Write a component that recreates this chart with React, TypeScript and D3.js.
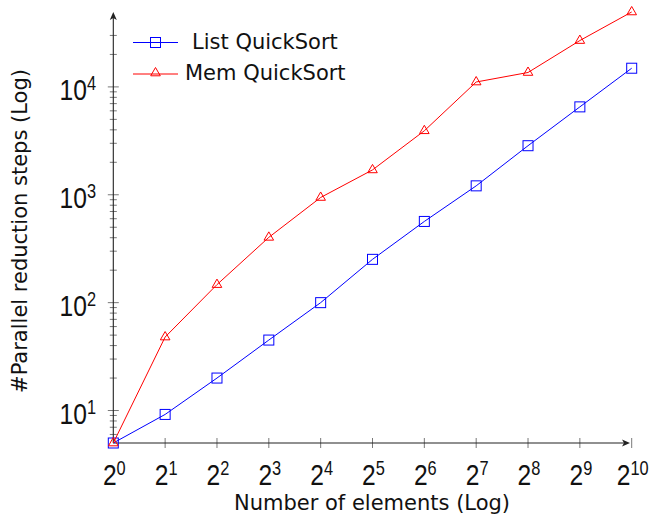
import React, { useEffect, useRef } from "react";
import * as d3 from "d3";

// Data
const exponents = [0, 1, 2, 3, 4, 5, 6, 7, 8, 9, 10];
const listQuickSort = [5, 9.2, 20, 45, 100, 252, 566, 1210, 2850, 6530, 14900];
const memQuickSort = [5, 48, 147, 403, 944, 1700, 3920, 11100, 13600, 26900, 49500];
const yTickExponents = [1, 2, 3, 4];
const seriesNames = ["List QuickSort", "Mem QuickSort"];

const App = () => {
  const svgRef = useRef<SVGSVGElement | null>(null);
  const width = 653;
  const height = 518;

  useEffect(() => {
    const svg = d3.select(svgRef.current);
    svg.selectAll("*").remove();

    const tickFont = "'Liberation Sans', Arial, sans-serif";
    const labelFont = "'DejaVu Sans', sans-serif";

    const xScale = d3.scaleLog().base(2).domain([1, 1024]).range([113.3, 631.7]);
    const yScale = d3.scaleLog().domain([5, 50000]).range([443, 11.5]);

    const x0 = xScale(1);
    const y0 = yScale(5);
    const yTop = 12;
    const xEnd = 630;

    // Minor y ticks
    const minor: number[] = [];
    for (let k = 0; k <= 4; k++) {
      for (let m = 2; m <= 9; m++) {
        const v = m * Math.pow(10, k);
        if (v > 5 && yScale(v) > yTop + 12) minor.push(v);
      }
    }
    const ax = svg.append("g");
    ax.selectAll("line.minor")
      .data(minor)
      .join("line")
      .attr("x1", x0 - 3.5)
      .attr("x2", x0 + 3.5)
      .attr("y1", (d) => yScale(d))
      .attr("y2", (d) => yScale(d))
      .attr("stroke", "#555")
      .attr("stroke-width", 0.8);

    ax.selectAll("line.major")
      .data(yTickExponents)
      .join("line")
      .attr("x1", x0 - 5.5)
      .attr("x2", x0 + 5.5)
      .attr("y1", (d) => yScale(Math.pow(10, d)))
      .attr("y2", (d) => yScale(Math.pow(10, d)))
      .attr("stroke", "#555")
      .attr("stroke-width", 0.8);

    // x ticks
    ax.selectAll("line.xt")
      .data(exponents.slice(1))
      .join("line")
      .attr("x1", (d) => xScale(Math.pow(2, d)))
      .attr("x2", (d) => xScale(Math.pow(2, d)))
      .attr("y1", y0 - 5)
      .attr("y2", y0 + 5)
      .attr("stroke", "#555")
      .attr("stroke-width", 0.8);

    // axis lines with arrows
    ax.append("line")
      .attr("x1", x0).attr("x2", xEnd - 4)
      .attr("y1", y0).attr("y2", y0)
      .attr("stroke", "#222").attr("stroke-width", 1.1);
    ax.append("path")
      .attr("d", `M${xEnd},${y0} L${xEnd - 8},${y0 - 3.5} L${xEnd - 6},${y0} L${xEnd - 8},${y0 + 3.5} Z`)
      .attr("fill", "#222");
    ax.append("line")
      .attr("x1", x0).attr("x2", x0)
      .attr("y1", y0).attr("y2", yTop + 4)
      .attr("stroke", "#222").attr("stroke-width", 1.1);
    ax.append("path")
      .attr("d", `M${x0},${yTop} L${x0 - 3.5},${yTop + 8} L${x0},${yTop + 6} L${x0 + 3.5},${yTop + 8} Z`)
      .attr("fill", "#222");

    // tick labels (narrowed to match the condensed TeX digits)
    const yl = svg.append("g");
    const powerLabel = (x: number, y: number, base: string, exp: number, anchor: string) => {
      const t = yl.append("text")
        .attr("transform", `translate(${x},${y}) scale(0.82,1)`)
        .attr("text-anchor", anchor)
        .style("font-family", tickFont)
        .style("font-size", "30px")
        .attr("fill", "#111");
      t.append("tspan").text(base);
      t.append("tspan").attr("dy", -10.5).style("font-size", "20px").text(String(exp));
    };
    yTickExponents.forEach((e) => powerLabel(96, yScale(Math.pow(10, e)) + 13.5, "10", e, "end"));
    exponents.forEach((e) => powerLabel(xScale(Math.pow(2, e)) + 1, 485, "2", e, "middle"));

    // axis titles
    svg.append("text")
      .attr("x", 372)
      .attr("y", 510)
      .attr("text-anchor", "middle")
      .style("font-family", labelFont)
      .style("font-size", "21px")
      .attr("fill", "#111")
      .text("Number of elements (Log)");

    svg.append("text")
      .attr("transform", "translate(27,231) rotate(-90)")
      .attr("text-anchor", "middle")
      .style("font-family", labelFont)
      .style("font-size", "21px")
      .attr("fill", "#111")
      .text("#Parallel reduction steps (Log)");

    // series
    const line = d3.line<number>()
      .x((_, i) => xScale(Math.pow(2, exponents[i])))
      .y((d) => yScale(d));

    const square = (g: any, cx: number, cy: number) =>
      g.append("rect")
        .attr("x", cx - 5).attr("y", cy - 5)
        .attr("width", 10).attr("height", 10)
        .attr("fill", "none").attr("stroke", "blue").attr("stroke-width", 1);
    const triangle = (g: any, cx: number, cy: number) =>
      g.append("path")
        .attr("d", `M${cx},${cy - 5.5} L${cx + 4.8},${cy + 2.8} L${cx - 4.8},${cy + 2.8} Z`)
        .attr("fill", "none").attr("stroke", "red").attr("stroke-width", 1);

    const s1 = svg.append("g");
    s1.append("path").attr("d", line(listQuickSort)).attr("fill", "none")
      .attr("stroke", "blue").attr("stroke-width", 1);
    listQuickSort.forEach((d, i) => square(s1, xScale(Math.pow(2, exponents[i])), yScale(d)));

    const s2 = svg.append("g");
    s2.append("path").attr("d", line(memQuickSort)).attr("fill", "none")
      .attr("stroke", "red").attr("stroke-width", 1);
    memQuickSort.forEach((d, i) => triangle(s2, xScale(Math.pow(2, exponents[i])), yScale(d)));

    // legend
    const lg = svg.append("g");
    const rows = [
      { y: 42.5, color: "blue", tx: 192, mark: square },
      { y: 74, color: "red", tx: 185, mark: triangle },
    ];
    rows.forEach((r, i) => {
      lg.append("line").attr("x1", 133).attr("x2", 178)
        .attr("y1", r.y).attr("y2", r.y)
        .attr("stroke", r.color).attr("stroke-width", 1);
      r.mark(lg, 155.5, r.y + (i === 1 ? -1 : 0));
      lg.append("text")
        .attr("x", r.tx)
        .attr("y", r.y + 6)
        .style("font-family", labelFont)
        .style("font-size", "21px")
        .attr("fill", "#111")
        .text(seriesNames[i]);
    });
  }, []);

  return (
    <svg
      ref={svgRef}
      width={width}
      height={height}
      style={{ position: "absolute", left: 0, top: 0, background: "#fff" }}
    ></svg>
  );
};

export default App;
